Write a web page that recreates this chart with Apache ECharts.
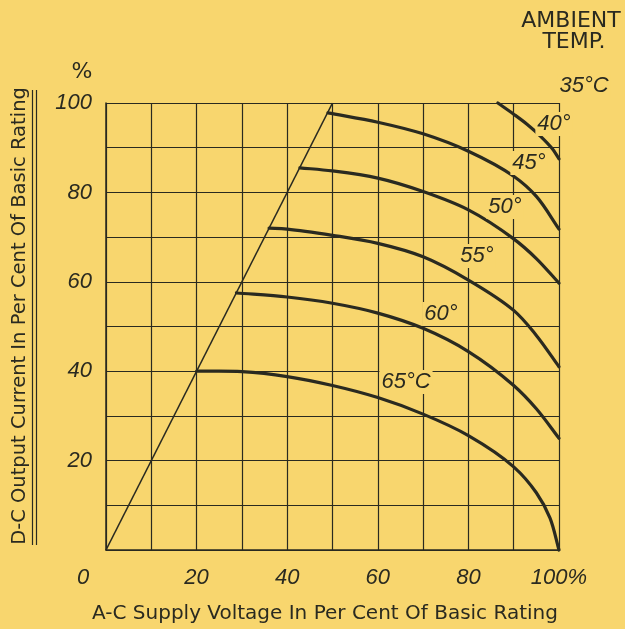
<!DOCTYPE html>
<html>
<head>
<meta charset="utf-8">
<script src="https://cdn.jsdelivr.net/npm/echarts@6/dist/echarts.min.js"></script>
<style>
html,body{margin:0;padding:0;background:#f8d66e;}
#c{width:625px;height:629px;}
</style>
</head>
<body>
<div id="c"></div>
<script>
// ---- data ----
const xLabelValues = [0, 20, 40, 60, 80, 100];
const xLabelTexts = ['0', '20', '40', '60', '80', '100%'];
const yLabelValues = [20, 40, 60, 80, 100];
const yLabelTexts = ['20', '40', '60', '80', '100'];
const xTitle = 'A-C Supply Voltage In Per Cent Of Basic Rating';
const yTitle = 'D-C Output Current In Per Cent Of Basic Rating';

const limitLine = [[0, 0], [50, 100]];
const t40 = [[86.5, 100], [90, 97.5], [93, 95.2], [96, 92.5], [98.5, 89.8], [100, 87.5]];
const t45 = [[49, 97.8], [60, 95.7], [70, 93.1], [80, 89.2], [90, 83.6], [95, 79.1], [100, 71.8]];
const t50 = [[42.8, 85.5], [50, 84.8], [60, 83.2], [70, 80.2], [80, 76.1], [90, 69.6], [95, 65.2], [100, 59.7]];
const t55 = [[36, 72], [40, 71.8], [50, 70.4], [60, 68.6], [70, 65.6], [80, 60.4], [90, 53.6], [95, 48], [100, 41]];
const t60 = [[28.8, 57.5], [40, 56.6], [50, 55.2], [60, 53], [70, 49.6], [80, 44.4], [90, 36.8], [95, 31.6], [100, 25]];
const t65 = [[20, 40], [30, 39.9], [40, 38.8], [50, 36.8], [60, 34.1], [70, 30.4], [80, 25.6], [90, 18.6], [95, 12.8], [98, 7.2], [100, 0]];

const curveNames = ['40°', '45°', '50°', '55°', '60°', '65°C'];
const curveData = [t40, t45, t50, t55, t60, t65];

// ---- styling ----
const BG = '#f8d66e';
const INK = '#2a2a20';
const numFont = 'italic 22px "Liberation Sans", Arial, sans-serif';
const titleFont = '20px "DejaVu Sans", sans-serif';

const chart = echarts.init(document.getElementById('c'), null, {renderer: 'canvas'});

// centripetal Catmull-Rom through pixel points -> SVG path string
function splinePath(P) {
  const n = P.length;
  const pt = i => {
    if (i < 0) return [2 * P[0][0] - P[1][0], 2 * P[0][1] - P[1][1]];
    if (i >= n) return [2 * P[n - 1][0] - P[n - 2][0], 2 * P[n - 1][1] - P[n - 2][1]];
    return P[i];
  };
  const dist = (a, b) => Math.pow(Math.hypot(a[0] - b[0], a[1] - b[1]), 0.5) || 1e-6;
  let d = 'M' + P[0][0] + ' ' + P[0][1];
  for (let i = 0; i < n - 1; i++) {
    const p0 = pt(i - 1), p1 = pt(i), p2 = pt(i + 1), p3 = pt(i + 2);
    const d1 = dist(p0, p1), d2 = dist(p1, p2), d3 = dist(p2, p3);
    const b1 = [0, 1].map(k => (d1 * d1 * p2[k] - d2 * d2 * p0[k] + (2 * d1 * d1 + 3 * d1 * d2 + d2 * d2) * p1[k]) / (3 * d1 * (d1 + d2)));
    const b2 = [0, 1].map(k => (d3 * d3 * p1[k] - d2 * d2 * p3[k] + (2 * d3 * d3 + 3 * d3 * d2 + d2 * d2) * p2[k]) / (3 * d3 * (d3 + d2)));
    d += ' C' + b1[0] + ' ' + b1[1] + ' ' + b2[0] + ' ' + b2[1] + ' ' + p2[0] + ' ' + p2[1];
  }
  return d;
}

const series = [{
  type: 'line', data: limitLine, symbol: 'none', silent: true,
  lineStyle: {color: INK, width: 1.6}, z: 3
}];
curveData.forEach((d, i) => {
  series.push({
    name: curveNames[i], type: 'custom', silent: true, z: 4,
    data: [d[0]],
    renderItem: function (params, api) {
      const pts = d.map(p => api.coord(p));
      return {
        type: 'path',
        shape: {pathData: splinePath(pts)},
        style: {stroke: INK, lineWidth: 3.2, fill: null, lineCap: 'round'}
      };
    }
  });
});

function lbl(text, x, y) {
  return {
    type: 'text', x: x, y: y, z: 10,
    style: {
      text: text, align: 'center', verticalAlign: 'middle',
      font: numFont, fill: INK, backgroundColor: BG, padding: [1, 2, 1, 2]
    }
  };
}

const option = {
  backgroundColor: BG,
  animation: false,
  grid: {left: 106, right: 66, top: 103, bottom: 79, containLabel: false, outerBoundsMode: 'none'},
  xAxis: {
    type: 'value', min: 0, max: 100, interval: 10,
    axisLine: {show: true, lineStyle: {color: INK, width: 1.5}},
    axisTick: {show: false},
    splitLine: {show: true, lineStyle: {color: INK, width: 1.2}},
    axisLabel: {
      margin: 17, color: INK, fontStyle: 'italic', fontSize: 22,
      fontFamily: '"Liberation Sans", Arial, sans-serif',
      formatter: function (v) {
        const k = xLabelValues.indexOf(v);
        if (k < 0) return '';
        if (v === 0) return '{z|' + xLabelTexts[k] + '}';
        return xLabelTexts[k];
      },
      rich: {z: {padding: [0, 46, 0, 0], color: INK, fontStyle: 'italic', fontSize: 22,
        fontFamily: '"Liberation Sans", Arial, sans-serif'}}
    }
  },
  yAxis: {
    type: 'value', min: 0, max: 100, interval: 10,
    axisLine: {show: true, lineStyle: {color: INK, width: 1.5}},
    axisTick: {show: false},
    splitLine: {show: true, lineStyle: {color: INK, width: 1.2}},
    axisLabel: {
      margin: 14, color: INK, fontStyle: 'italic', fontSize: 22,
      fontFamily: '"Liberation Sans", Arial, sans-serif',
      formatter: function (v) {
        const k = yLabelValues.indexOf(v);
        return k < 0 ? '' : yLabelTexts[k];
      }
    }
  },
  series: series,
  graphic: [
    {type: 'text', x: 325, y: 614, style: {text: xTitle, align: 'center', verticalAlign: 'middle',
      font: titleFont, fill: INK}},
    {type: 'text', x: 20, y: 316, rotation: Math.PI / 2, style: {text: yTitle, align: 'center', verticalAlign: 'middle',
      font: '19.5px "DejaVu Sans", sans-serif', fill: INK}},
    {type: 'text', x: 82, y: 72, style: {text: '%', align: 'center', verticalAlign: 'middle',
      font: '22px "DejaVu Sans", sans-serif', fill: INK}},
    {type: 'text', x: 571, y: 21, style: {text: 'AMBIENT', align: 'center', verticalAlign: 'middle',
      font: '22px "DejaVu Sans", sans-serif', fill: INK}},
    {type: 'text', x: 574, y: 42, style: {text: 'TEMP.', align: 'center', verticalAlign: 'middle',
      font: '22px "DejaVu Sans", sans-serif', fill: INK}},
    lbl('35°C', 584, 86),
    lbl(curveNames[0], 554, 124),
    lbl(curveNames[1], 529, 163),
    lbl(curveNames[2], 505, 207),
    lbl(curveNames[3], 477, 256),
    lbl(curveNames[4], 441, 314),
    lbl(curveNames[5], 406, 382),
    {type: 'line', shape: {x1: 32.5, y1: 90, x2: 32.5, y2: 545}, style: {stroke: INK, lineWidth: 1.2}},
    {type: 'line', shape: {x1: 36.5, y1: 90, x2: 36.5, y2: 545}, style: {stroke: INK, lineWidth: 1.2}}
  ]
};
chart.setOption(option);
</script>
</body>
</html>
